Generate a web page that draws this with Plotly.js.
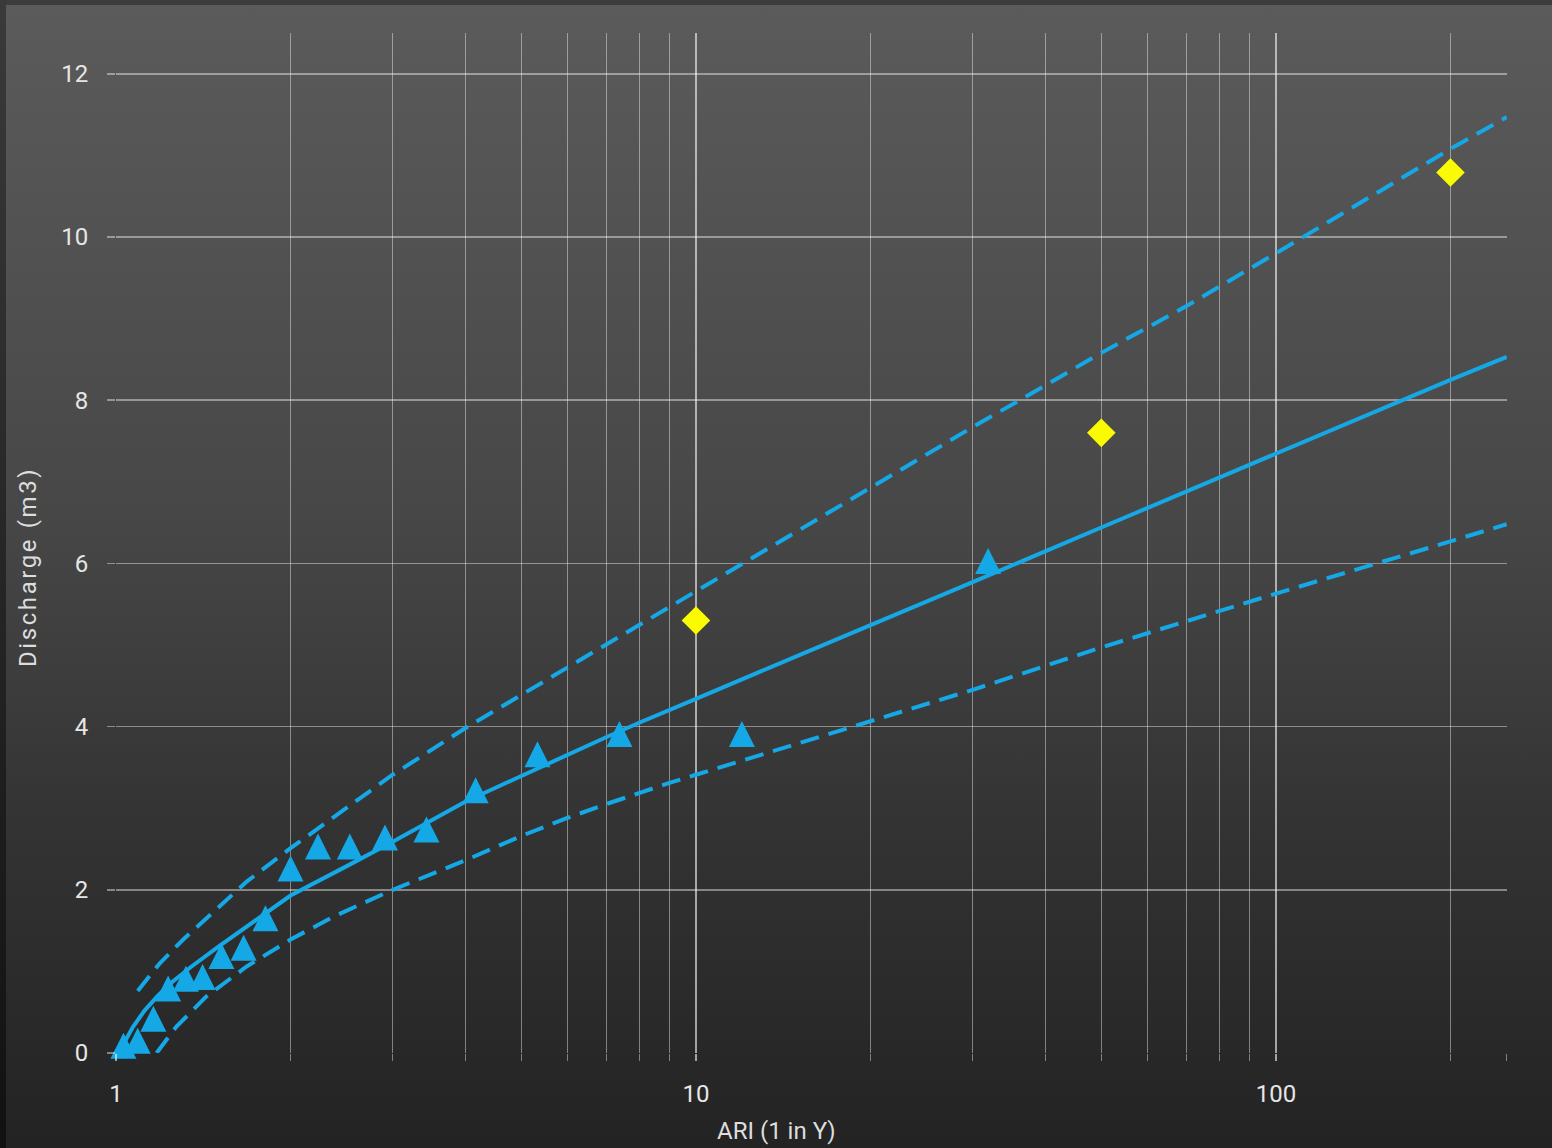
<!DOCTYPE html>
<html>
<head>
<meta charset="utf-8">
<script src="https://cdn.plot.ly/plotly-3.0.1.min.js"></script>
<style>
  html, body { margin: 0; padding: 0; }
  body {
    width: 1552px; height: 1148px; overflow: hidden; position: relative;
    background: linear-gradient(to bottom, #5b5b5b 0%, #474747 45%, #333333 72%, #232323 100%);
  }
  #chart { width: 1552px; height: 1148px; }
  .edge-left { position: absolute; left: 0; top: 0; width: 6px; height: 1148px;
    background: linear-gradient(to bottom, #3a3a3a, #111111); pointer-events: none; }
  .edge-top { position: absolute; left: 0; top: 0; width: 1552px; height: 5px;
    background: #3c3c3c; pointer-events: none; }
</style>
</head>
<body>
<div id="chart"></div>
<div class="edge-top"></div>
<div class="edge-left"></div>
<script>
// Recorded annual maxima, plotted at their Cunnane ARI positions
const obsARI = [31.9, 12.0, 7.38, 5.33, 4.17, 3.43, 2.91, 2.53, 2.23, 2.00,
                1.81, 1.66, 1.52, 1.41, 1.32, 1.23, 1.16, 1.09, 1.03];
const obsQ   = [6.03, 3.91, 3.91, 3.66, 3.22, 2.74, 2.64, 2.53, 2.53, 2.26,
                1.65, 1.29, 1.19, 0.93, 0.91, 0.79, 0.42, 0.15, 0.09];

// Design flood estimates
const designARI = [10, 50, 200];
const designQ   = [5.30, 7.60, 10.79];

// Fitted frequency curve
const fitARI = [1.01, 1.04, 1.07, 1.12, 1.18, 1.25, 1.35, 1.5, 1.7, 2, 2.5, 3, 4, 5,
                6, 7, 8, 9, 10, 15, 20, 30, 50, 100, 200, 250];
const fitQ   = [0.00, 0.17, 0.32, 0.52, 0.70, 0.87, 1.06, 1.30, 1.57, 1.93, 2.29, 2.59, 3.08, 3.40,
                3.66, 3.87, 4.05, 4.21, 4.34, 4.87, 5.24, 5.77, 6.44, 7.35, 8.25, 8.53];

// Upper confidence limit
const upperARI = [1.09, 1.19, 1.31, 1.45, 1.68, 2, 2.37, 3, 4, 5, 6, 7, 8, 10, 12,
                  20, 30, 40, 50, 70, 100, 200, 250];
const upperQ   = [0.76, 1.10, 1.40, 1.69, 2.10, 2.51, 2.89, 3.41, 3.98, 4.39, 4.72, 5.00, 5.24, 5.66, 5.99,
                  6.93, 7.67, 8.18, 8.58, 9.15, 9.80, 11.08, 11.47];

// Lower confidence limit
const lowerARI = [1.175, 1.27, 1.43, 1.68, 2, 2.37, 3, 4, 5, 6, 7, 8, 9, 10, 20, 30, 50, 100, 200, 250];
const lowerQ   = [0.00, 0.32, 0.69, 1.06, 1.39, 1.67, 2.00, 2.36, 2.66, 2.88, 3.05, 3.19, 3.31, 3.41,
                  4.06, 4.45, 4.97, 5.63, 6.27, 6.48];

// Axis ticks
const xMajorTicks = [1, 10, 100];
const xMajorLabels = ['1', '10', '100'];
const xMinorTicks = [2, 3, 4, 5, 6, 7, 8, 9, 20, 30, 40, 50, 60, 70, 80, 90, 200, 250];
const yTicks = [0, 2, 4, 6, 8, 10, 12];

const BLUE = '#15a8e6';
const YELLOW = '#fafa00';
const GRID = 'rgba(255,255,255,0.42)';
const GRID_MAJOR = 'rgba(255,255,255,0.58)';
const FONT = 'Roboto, "Noto Sans", sans-serif';

// Upward triangles, taller than equilateral, centred on their points
const triSize = 26;

const traces = [
  { x: upperARI, y: upperQ, mode: 'lines', name: 'Upper limit',
    line: { color: BLUE, width: 4, dash: '19px,10px' }, hoverinfo: 'x+y' },
  { x: lowerARI, y: lowerQ, mode: 'lines', name: 'Lower limit',
    line: { color: BLUE, width: 4, dash: '19px,10px' }, hoverinfo: 'x+y' },
  { x: fitARI, y: fitQ, mode: 'lines', name: 'Fitted curve',
    line: { color: BLUE, width: 4 }, hoverinfo: 'x+y' },
  { x: obsARI, y: obsQ, mode: 'markers', name: 'Recorded', cliponaxis: false,
    marker: { symbol: 'arrow-down', angle: 180, size: triSize, standoff: triSize / 2,
              color: BLUE, line: { width: 0 } } },
  { x: designARI, y: designQ, mode: 'markers', name: 'Design', cliponaxis: false,
    marker: { symbol: 'diamond', size: 22, color: YELLOW, line: { width: 0 } } }
];

const layout = {
  width: 1552, height: 1148,
  margin: { l: 116, r: 45, t: 33, b: 95 },
  paper_bgcolor: 'rgba(0,0,0,0)',
  plot_bgcolor: 'rgba(0,0,0,0)',
  showlegend: false,
  font: { family: FONT, color: '#e6e6e6', size: 24 },
  xaxis: {
    type: 'log',
    range: [0, 2.3985],
    tickmode: 'array', tickvals: xMajorTicks, ticktext: xMajorLabels,
    showgrid: true, gridcolor: GRID_MAJOR, gridwidth: 1.5,
    ticks: 'outside', ticklen: 7, tickwidth: 1.5, tickcolor: GRID_MAJOR,
    ticklabelstandoff: 12,
    zeroline: false, showline: false,
    tickfont: { family: FONT, size: 24, color: '#e6e6e6' },
    minor: { tickmode: 'array', tickvals: xMinorTicks, showgrid: true,
             gridcolor: GRID, gridwidth: 1, ticks: 'outside', ticklen: 7,
             tickwidth: 1, tickcolor: GRID }
  },
  yaxis: {
    range: [0, 12.5],
    tickmode: 'array', tickvals: yTicks,
    showgrid: true, gridcolor: GRID, gridwidth: 1.5,
    ticks: 'outside', ticklen: 8, tickwidth: 1.5, tickcolor: GRID,
    ticklabelstandoff: 14,
    zeroline: false, showline: false,
    tickfont: { family: FONT, size: 24, color: '#e6e6e6' }
  },
  annotations: [
    { text: 'ARI (1 in Y)', xref: 'paper', yref: 'paper',
      x: 0.4745, y: -0.0765, xanchor: 'center', yanchor: 'middle', showarrow: false,
      font: { family: FONT, size: 24, color: '#dddddd' } },
    { text: 'Discharge (m3)', xref: 'paper', yref: 'paper', textangle: -90,
      x: -0.0633, y: 0.4765, xanchor: 'center', yanchor: 'middle', showarrow: false,
      font: { family: FONT, size: 24, color: '#dddddd' } }
  ]
};

Plotly.newPlot('chart', traces, layout, { displayModeBar: false, staticPlot: true })
  .then(function (gd) {
    // the vertical axis title is set a little wider than the horizontal one
    const notes = gd.querySelectorAll('.annotation-text');
    if (notes.length > 1) notes[1].style.letterSpacing = '2.6px';
  });
</script>
</body>
</html>
